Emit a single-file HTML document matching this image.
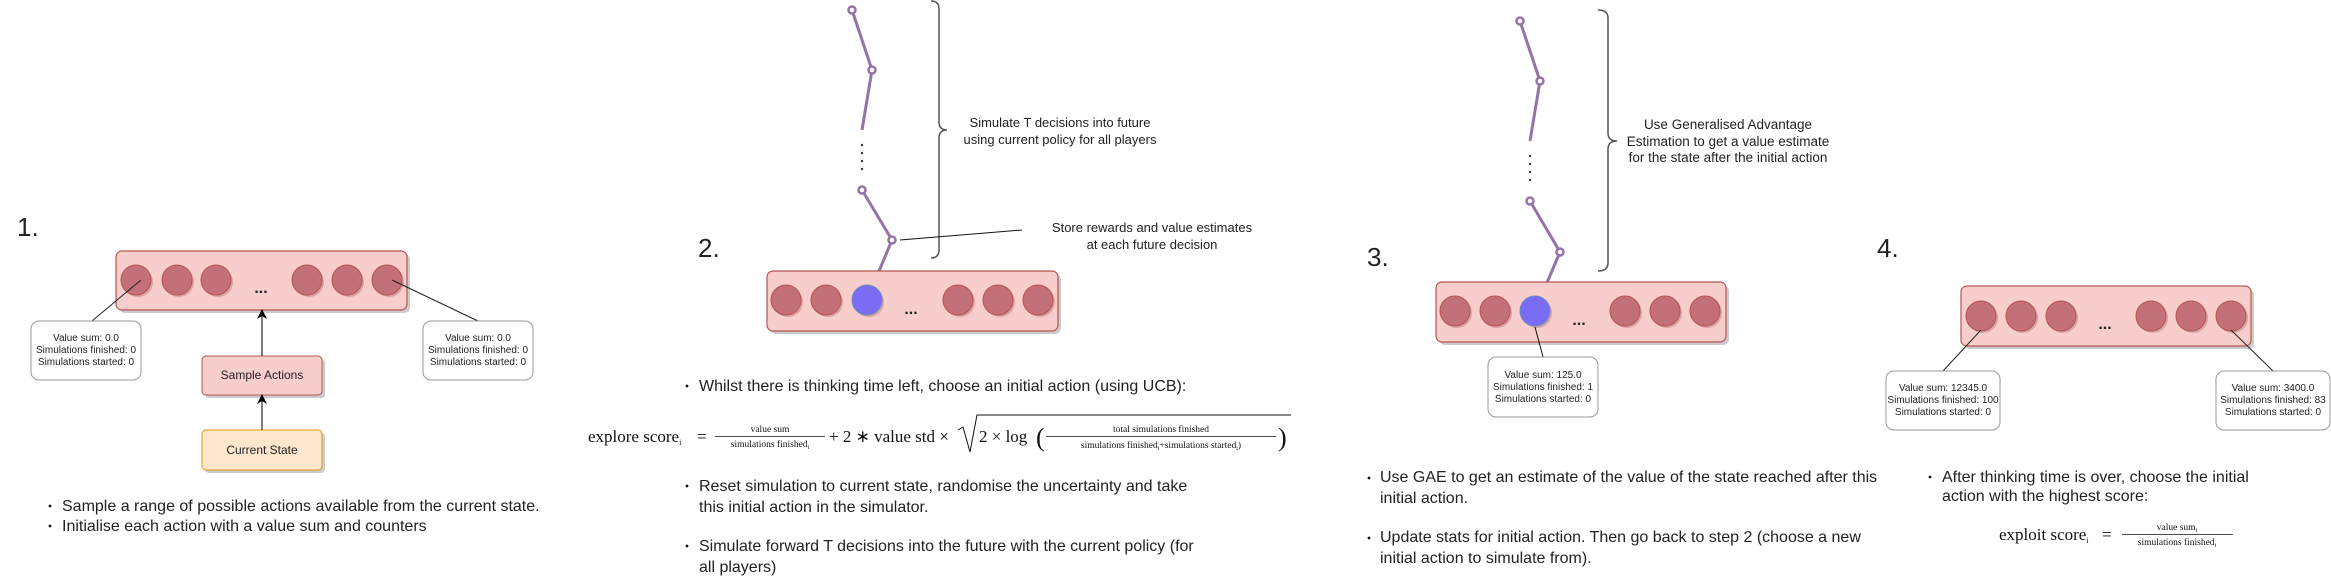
<!DOCTYPE html>
<html><head><meta charset="utf-8">
<style>
html,body{margin:0;padding:0;background:#fff;}
svg{display:block;}
.t{font-family:"Liberation Sans",sans-serif;fill:#222;}
.m{font-family:"Liberation Serif",serif;fill:#111;}
</style></head>
<body>
<svg width="2331" height="585" viewBox="0 0 2331 585" xmlns="http://www.w3.org/2000/svg">
<defs>
<marker id="ah" markerWidth="10" markerHeight="10" refX="5" refY="5" orient="auto" markerUnits="userSpaceOnUse">
<path d="M0,0 L10,5 L0,10 L3,5 Z" fill="#000"/>
</marker>
</defs>

<!-- ================= PANEL 1 ================= -->
<g>
<text class="t" x="17" y="236" font-size="26" fill="#000">1.</text>
<rect x="119" y="254" width="291" height="59" rx="6" fill="#ccc"/>
<rect x="116" y="251" width="291" height="59" rx="6" fill="#f8cecc" stroke="#b85450" stroke-width="1.2"/>
<g>
<circle cx="138" cy="282" r="15" fill="#d9a3a6"/><circle cx="136" cy="280" r="15" fill="#c4707a" stroke="#b85450"/>
<circle cx="179" cy="282" r="15" fill="#d9a3a6"/><circle cx="177" cy="280" r="15" fill="#c4707a" stroke="#b85450"/>
<circle cx="218" cy="282" r="15" fill="#d9a3a6"/><circle cx="216" cy="280" r="15" fill="#c4707a" stroke="#b85450"/>
<circle cx="309" cy="282" r="15" fill="#d9a3a6"/><circle cx="307" cy="280" r="15" fill="#c4707a" stroke="#b85450"/>
<circle cx="349" cy="282" r="15" fill="#d9a3a6"/><circle cx="347" cy="280" r="15" fill="#c4707a" stroke="#b85450"/>
<circle cx="389" cy="282" r="15" fill="#d9a3a6"/><circle cx="387" cy="280" r="15" fill="#c4707a" stroke="#b85450"/>
</g>
<text class="t" x="261" y="293" font-size="16" font-weight="bold" fill="#111" text-anchor="middle">...</text>
<line x1="141" y1="280" x2="92" y2="321" stroke="#222" stroke-width="1"/>
<line x1="392" y1="280" x2="478" y2="321" stroke="#222" stroke-width="1"/>
<rect x="31" y="321" width="110" height="59" rx="8" fill="#fff" stroke="#999"/>
<text class="t" font-size="10" text-anchor="middle"><tspan x="86" y="341">Value sum: 0.0</tspan><tspan x="86" y="353">Simulations finished: 0</tspan><tspan x="86" y="365">Simulations started: 0</tspan></text>
<rect x="423" y="321" width="110" height="59" rx="8" fill="#fff" stroke="#999"/>
<text class="t" font-size="10" text-anchor="middle"><tspan x="478" y="341">Value sum: 0.0</tspan><tspan x="478" y="353">Simulations finished: 0</tspan><tspan x="478" y="365">Simulations started: 0</tspan></text>
<rect x="205" y="359" width="120" height="39" rx="4" fill="#ccc"/>
<rect x="202" y="356" width="120" height="39" rx="4" fill="#f8cecc" stroke="#b85450"/>
<text class="t" x="262" y="379" font-size="12" text-anchor="middle">Sample Actions</text>
<rect x="205" y="433" width="120" height="40" rx="4" fill="#ccc"/>
<rect x="202" y="430" width="120" height="40" rx="4" fill="#ffe6cc" stroke="#d79b00"/>
<text class="t" x="262" y="454" font-size="12" text-anchor="middle">Current State</text>
<line x1="262" y1="356" x2="262" y2="314" stroke="#000" marker-end="url(#ah)"/>
<line x1="262" y1="430" x2="262" y2="399" stroke="#000" marker-end="url(#ah)"/>
<g class="t" font-size="16" fill="#111">
<circle cx="50" cy="506" r="1.4" fill="#111"/><text x="62" y="511">Sample a range of possible actions available from the current state.</text>
<circle cx="50" cy="526" r="1.4" fill="#111"/><text x="62" y="531">Initialise each action with a value sum and counters</text>
</g>
</g>

<!-- ================= PANEL 2 ================= -->
<g>
<text class="t" x="698" y="257" font-size="26" fill="#000">2.</text>
<polyline points="852,10 872,70 862,130" fill="none" stroke="#9673a6" stroke-width="3"/>
<polyline points="862,190 892,240 867,300" fill="none" stroke="#9673a6" stroke-width="3"/>
<g fill="#fff" stroke="#9673a6" stroke-width="2.5">
<circle cx="852" cy="10" r="3.5"/><circle cx="872" cy="70" r="3.5"/><circle cx="862" cy="190" r="3.5"/><circle cx="892" cy="240" r="3.5"/>
</g>
<g fill="#333"><circle cx="862" cy="145" r="1.2"/><circle cx="862" cy="153" r="1.2"/><circle cx="862" cy="161" r="1.2"/><circle cx="862" cy="169" r="1.2"/></g>
<rect x="770" y="274" width="291" height="60" rx="6" fill="#ccc"/>
<rect x="767" y="271" width="291" height="60" rx="6" fill="#f8cecc" stroke="#b85450" stroke-width="1.2"/>
<g>
<circle cx="788" cy="302" r="15" fill="#d9a3a6"/><circle cx="786" cy="300" r="15" fill="#c4707a" stroke="#b85450"/>
<circle cx="828" cy="302" r="15" fill="#d9a3a6"/><circle cx="826" cy="300" r="15" fill="#c4707a" stroke="#b85450"/>
<circle cx="869" cy="302" r="15" fill="#d9a3a6"/><circle cx="867" cy="300" r="15" fill="#7b6cf6" stroke="#6c8ebf"/>
<circle cx="960" cy="302" r="15" fill="#d9a3a6"/><circle cx="958" cy="300" r="15" fill="#c4707a" stroke="#b85450"/>
<circle cx="1000" cy="302" r="15" fill="#d9a3a6"/><circle cx="998" cy="300" r="15" fill="#c4707a" stroke="#b85450"/>
<circle cx="1040" cy="302" r="15" fill="#d9a3a6"/><circle cx="1038" cy="300" r="15" fill="#c4707a" stroke="#b85450"/>
</g>
<text class="t" x="911" y="314" font-size="16" font-weight="bold" fill="#111" text-anchor="middle">...</text>
<path d="M931,1 Q939,1 939,9 L939,122 Q939,130 947,130 Q939,130 939,138 L939,250 Q939,258 931,258" fill="none" stroke="#555" stroke-width="1.5"/>
<text class="t" font-size="13" text-anchor="middle"><tspan x="1060" y="127">Simulate T decisions into future</tspan><tspan x="1060" y="144">using current policy for all players</tspan></text>
<line x1="900" y1="240" x2="1022" y2="230" stroke="#111" stroke-width="1"/>
<text class="t" font-size="13" text-anchor="middle"><tspan x="1152" y="232">Store rewards and value estimates</tspan><tspan x="1152" y="249">at each future decision</tspan></text>
<g class="t" font-size="16" fill="#111">
<circle cx="687" cy="386" r="1.4" fill="#111"/><text x="699" y="391">Whilst there is thinking time left, choose an initial action (using UCB):</text>
<circle cx="687" cy="486" r="1.4" fill="#111"/><text x="699" y="491">Reset simulation to current state, randomise the uncertainty and take</text><text x="699" y="512">this initial action in the simulator.</text>
<circle cx="687" cy="546" r="1.4" fill="#111"/><text x="699" y="551">Simulate forward T decisions into the future with the current policy (for</text><text x="699" y="572">all players)</text>
</g>
<g>
<text class="m" x="588" y="442" font-size="17">explore score<tspan font-size="8" dy="3">i</tspan></text>
<text class="m" x="697" y="442" font-size="17">=</text>
<text class="m" x="770" y="432" font-size="9.5" text-anchor="middle">value sum</text>
<line x1="715" y1="436.5" x2="825" y2="436.5" stroke="#111" stroke-width="0.8"/>
<text class="m" x="770" y="447" font-size="9.5" text-anchor="middle">simulations finished<tspan font-size="6" dy="2">i</tspan></text>
<text class="m" x="829" y="442" font-size="17">+ 2 ∗ value std ×</text>
<path d="M958,430 L963,427 L970,452 L977,415 L1291,415" fill="none" stroke="#111" stroke-width="1"/>
<text class="m" x="979" y="442" font-size="17">2 × log</text>
<text class="m" x="1036" y="446" font-size="26">(</text>
<text class="m" x="1161" y="432" font-size="9.5" text-anchor="middle">total simulations finished</text>
<line x1="1046" y1="436.5" x2="1276" y2="436.5" stroke="#111" stroke-width="0.8"/>
<text class="m" x="1161" y="448" font-size="9.5" text-anchor="middle">simulations finished<tspan font-size="6" dy="2">i</tspan><tspan dy="-2">+simulations started</tspan><tspan font-size="6" dy="2">i</tspan><tspan dy="-2">)</tspan></text>
<text class="m" x="1278" y="446" font-size="26">)</text>
</g>
</g>

<!-- ================= PANEL 3 ================= -->
<g>
<text class="t" x="1367" y="266" font-size="26" fill="#000">3.</text>
<polyline points="1520,21 1540,81 1530,141" fill="none" stroke="#9673a6" stroke-width="3"/>
<polyline points="1530,201 1560,252 1535,311" fill="none" stroke="#9673a6" stroke-width="3"/>
<g fill="#fff" stroke="#9673a6" stroke-width="2.5">
<circle cx="1520" cy="21" r="3.5"/><circle cx="1540" cy="81" r="3.5"/><circle cx="1530" cy="201" r="3.5"/><circle cx="1560" cy="252" r="3.5"/>
</g>
<g fill="#333"><circle cx="1530" cy="156" r="1.2"/><circle cx="1530" cy="164" r="1.2"/><circle cx="1530" cy="172" r="1.2"/><circle cx="1530" cy="180" r="1.2"/></g>
<rect x="1439" y="285" width="290" height="60" rx="6" fill="#ccc"/>
<rect x="1436" y="282" width="290" height="60" rx="6" fill="#f8cecc" stroke="#b85450" stroke-width="1.2"/>
<g>
<circle cx="1457" cy="313" r="15" fill="#d9a3a6"/><circle cx="1455" cy="311" r="15" fill="#c4707a" stroke="#b85450"/>
<circle cx="1497" cy="313" r="15" fill="#d9a3a6"/><circle cx="1495" cy="311" r="15" fill="#c4707a" stroke="#b85450"/>
<circle cx="1537" cy="313" r="15" fill="#d9a3a6"/><circle cx="1535" cy="311" r="15" fill="#7b6cf6" stroke="#6c8ebf"/>
<circle cx="1627" cy="313" r="15" fill="#d9a3a6"/><circle cx="1625" cy="311" r="15" fill="#c4707a" stroke="#b85450"/>
<circle cx="1667" cy="313" r="15" fill="#d9a3a6"/><circle cx="1665" cy="311" r="15" fill="#c4707a" stroke="#b85450"/>
<circle cx="1707" cy="313" r="15" fill="#d9a3a6"/><circle cx="1705" cy="311" r="15" fill="#c4707a" stroke="#b85450"/>
</g>
<text class="t" x="1579" y="325" font-size="16" font-weight="bold" fill="#111" text-anchor="middle">...</text>
<path d="M1598,10 Q1608,10 1608,18 L1608,133 Q1608,141 1617,141 Q1608,141 1608,149 L1608,263 Q1608,271 1598,271" fill="none" stroke="#555" stroke-width="1.5"/>
<text class="t" font-size="13.5" text-anchor="middle"><tspan x="1728" y="129">Use Generalised Advantage</tspan><tspan x="1728" y="146">Estimation to get a value estimate</tspan><tspan x="1728" y="162">for the state after the initial action</tspan></text>
<line x1="1535" y1="327" x2="1543" y2="357" stroke="#111"/>
<rect x="1488" y="357" width="110" height="60" rx="8" fill="#fff" stroke="#999"/>
<text class="t" font-size="10" text-anchor="middle"><tspan x="1543" y="378">Value sum: 125.0</tspan><tspan x="1543" y="390">Simulations finished: 1</tspan><tspan x="1543" y="402">Simulations started: 0</tspan></text>
<g class="t" font-size="16" fill="#111">
<circle cx="1369" cy="478" r="1.4" fill="#111"/><text x="1380" y="482">Use GAE to get an estimate of the value of the state reached after this</text><text x="1380" y="503">initial action.</text>
<circle cx="1369" cy="538" r="1.4" fill="#111"/><text x="1380" y="542">Update stats for initial action. Then go back to step 2 (choose a new</text><text x="1380" y="563">initial action to simulate from).</text>
</g>
</g>

<!-- ================= PANEL 4 ================= -->
<g>
<text class="t" x="1877" y="257" font-size="26" fill="#000">4.</text>
<rect x="1964" y="289" width="290" height="60" rx="6" fill="#ccc"/>
<rect x="1961" y="286" width="290" height="60" rx="6" fill="#f8cecc" stroke="#b85450" stroke-width="1.2"/>
<g>
<circle cx="1983" cy="318" r="15" fill="#d9a3a6"/><circle cx="1981" cy="316" r="15" fill="#c4707a" stroke="#b85450"/>
<circle cx="2023" cy="318" r="15" fill="#d9a3a6"/><circle cx="2021" cy="316" r="15" fill="#c4707a" stroke="#b85450"/>
<circle cx="2063" cy="318" r="15" fill="#d9a3a6"/><circle cx="2061" cy="316" r="15" fill="#c4707a" stroke="#b85450"/>
<circle cx="2153" cy="318" r="15" fill="#d9a3a6"/><circle cx="2151" cy="316" r="15" fill="#c4707a" stroke="#b85450"/>
<circle cx="2193" cy="318" r="15" fill="#d9a3a6"/><circle cx="2191" cy="316" r="15" fill="#c4707a" stroke="#b85450"/>
<circle cx="2233" cy="318" r="15" fill="#d9a3a6"/><circle cx="2231" cy="316" r="15" fill="#c4707a" stroke="#b85450"/>
</g>
<text class="t" x="2105" y="329" font-size="16" font-weight="bold" fill="#111" text-anchor="middle">...</text>
<line x1="1981" y1="330" x2="1943" y2="371" stroke="#222"/>
<line x1="2231" y1="330" x2="2273" y2="371" stroke="#222"/>
<rect x="1886" y="371" width="114" height="59" rx="8" fill="#fff" stroke="#999"/>
<text class="t" font-size="10" text-anchor="middle"><tspan x="1943" y="391">Value sum: 12345.0</tspan><tspan x="1943" y="403">Simulations finished: 100</tspan><tspan x="1943" y="415">Simulations started: 0</tspan></text>
<rect x="2216" y="371" width="114" height="59" rx="8" fill="#fff" stroke="#999"/>
<text class="t" font-size="10" text-anchor="middle"><tspan x="2273" y="391">Value sum: 3400.0</tspan><tspan x="2273" y="403">Simulations finished: 83</tspan><tspan x="2273" y="415">Simulations started: 0</tspan></text>
<g class="t" font-size="16" fill="#111">
<circle cx="1930" cy="477" r="1.4" fill="#111"/><text x="1942" y="482">After thinking time is over, choose the initial</text><text x="1942" y="501">action with the highest score:</text>
</g>
<g>
<text class="m" x="1999" y="540" font-size="17">exploit score<tspan font-size="8" dy="3">i</tspan></text>
<text class="m" x="2102" y="540" font-size="17">=</text>
<text class="m" x="2177" y="530" font-size="9.5" text-anchor="middle">value sum<tspan font-size="6" dy="2">i</tspan></text>
<line x1="2122" y1="534.5" x2="2233" y2="534.5" stroke="#111" stroke-width="0.8"/>
<text class="m" x="2177" y="545" font-size="9.5" text-anchor="middle">simulations finished<tspan font-size="6" dy="2">i</tspan></text>
</g>
</g>
</svg>
</body></html>
